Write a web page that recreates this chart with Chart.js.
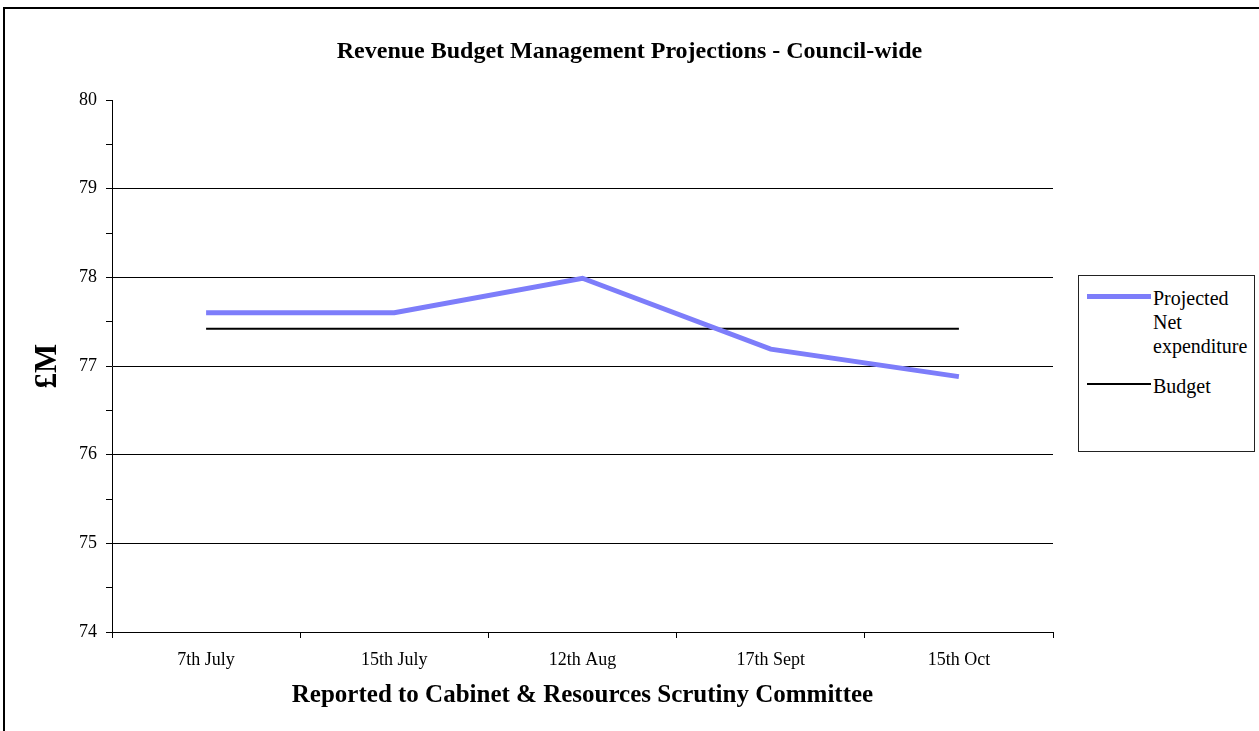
<!DOCTYPE html>
<html>
<head>
<meta charset="utf-8">
<script src="https://cdn.jsdelivr.net/npm/chart.js@4.4.1/dist/chart.umd.min.js"></script>
<style>
  body { margin: 0; background: #fff; overflow: hidden; font-family: "Liberation Serif", "Times New Roman", serif; }
  #frame { position: absolute; left: 3px; top: 7px; width: 1300px; height: 800px; border: 2px solid #000; }
  #wrap { position: absolute; left: 0; top: 0; width: 1259px; height: 731px; }
  #legend { position: absolute; left: 1078px; top: 275px; width: 177px; height: 177px; border: 1px solid #222; background: #fff; padding-top: 10px; box-sizing: border-box; }
  .item { position: relative; margin-bottom: 16px; }
  .swatch { position: absolute; left: 8px; width: 64px; }
  .text { margin-left: 74px; width: 100px; font-size: 20px; line-height: 24px; color: #000; }
</style>
</head>
<body>
<div id="frame"></div>
<div id="wrap"><canvas id="chart" width="1259" height="731"></canvas></div>
<div id="legend"></div>
<script>
const FONT = '"Liberation Serif", "Times New Roman", serif';

const labels = ["7th July", "15th July", "12th Aug", "17th Sept", "15th Oct"];
const projected = [77.6, 77.6, 77.99, 77.19, 76.88];
const budget = [77.42, 77.42, 77.42, 77.42, 77.42];
const yMin = 74;
const yMax = 80;

const data = {
  labels,
  datasets: [
    {
      label: "Projected Net expenditure",
      data: projected,
      borderColor: "#7d7dfa",
      borderWidth: 5,
      pointRadius: 0,
      tension: 0,
      yAxisID: "y",
    },
    {
      label: "Budget",
      data: budget,
      borderColor: "#000",
      borderWidth: 2,
      pointRadius: 0,
      tension: 0,
      yAxisID: "y",
    },
  ],
};

const config = {
  type: "line",
  data,
  options: {
    responsive: false,
    animation: false,
    devicePixelRatio: 1,
    layout: { padding: 0 },
    plugins: {
      legend: { display: false },
      tooltip: { enabled: false },
      title: {
        display: true,
        text: "Revenue Budget Management Projections - Council-wide",
        color: "#000",
        font: { family: FONT, size: 24, weight: "bold" },
        padding: { top: 37, bottom: 34.2 },
      },
    },
    scales: {
      x: {
        offset: true,
        afterFit: (s) => { s.height = 99; },
        grid: {
          offset: true,
          drawOnChartArea: false,
          drawTicks: true,
          tickLength: 6,
          color: "#000",
        },
        border: { display: true, color: "#000", width: 1 },
        ticks: {
          color: "#000",
          font: { family: FONT, size: 18 },
          padding: 11,
          maxRotation: 0,
          autoSkip: false,
        },
        title: {
          display: true,
          text: "Reported to Cabinet & Resources Scrutiny Committee",
          color: "#000",
          font: { family: FONT, size: 25, weight: "bold" },
          padding: { top: 0, bottom: 20 },
        },
      },
      y: {
        position: "left",
        min: yMin,
        max: yMax,
        afterFit: (s) => { s.width = 112; },
        grid: {
          color: (c) => {
            const v = c.tick ? c.tick.value : null;
            return v !== null && Number.isInteger(v) && v > yMin && v < yMax ? "#000" : "rgba(0,0,0,0)";
          },
          tickColor: "#000",
          tickLength: 6,
          lineWidth: 1,
        },
        border: { display: true, color: "#000", width: 1 },
        ticks: {
          stepSize: 0.5,
          autoSkip: false,
          color: "#000",
          font: { family: FONT, size: 18 },
          padding: 9,
          callback: (v) => (Number.isInteger(v) ? String(v) : ""),
        },
        title: {
          display: true,
          text: "£M",
          color: "#000",
          font: { family: FONT, size: 31, weight: "bold" },
          padding: { top: 29, bottom: 0 },
        },
      },
      spacer: {
        position: "right",
        afterFit: (s) => { s.width = 206; },
        grid: { display: false },
        border: { display: false },
        ticks: { display: false },
      },
    },
  },
};

const ctx = document.getElementById("chart").getContext("2d");
const chart = new Chart(ctx, config);

// legend box built from the datasets
const legend = document.getElementById("legend");
chart.data.datasets.forEach((ds) => {
  const item = document.createElement("div");
  item.className = "item";
  const sw = document.createElement("div");
  sw.className = "swatch";
  sw.style.height = ds.borderWidth + "px";
  sw.style.top = (10 - ds.borderWidth / 2) + "px";
  sw.style.background = ds.borderColor;
  const txt = document.createElement("div");
  txt.className = "text";
  txt.textContent = ds.label;
  item.appendChild(sw);
  item.appendChild(txt);
  legend.appendChild(item);
});
</script>
</body>
</html>
